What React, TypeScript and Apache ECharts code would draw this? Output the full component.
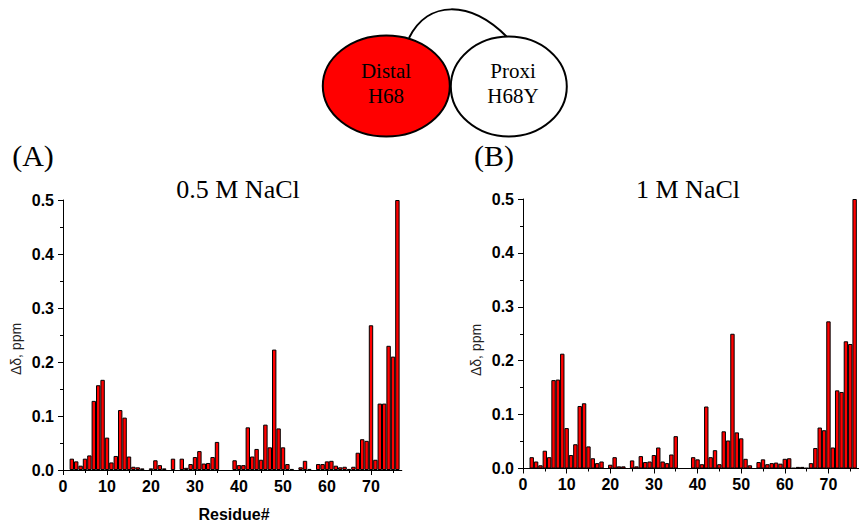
import React, { useEffect, useRef } from "react";
import * as echarts from "echarts";

const residues = [
  1, 2, 3, 4, 5, 6, 7, 8, 9, 10, 11, 12, 13, 14, 15, 16, 17, 18, 19, 20,
  21, 22, 23, 24, 25, 26, 27, 28, 29, 30, 31, 32, 33, 34, 35, 36, 37, 38, 39, 40,
  41, 42, 43, 44, 45, 46, 47, 48, 49, 50, 51, 52, 53, 54, 55, 56, 57, 58, 59, 60,
  61, 62, 63, 64, 65, 66, 67, 68, 69, 70, 71, 72, 73, 74, 75, 76,
];

// (A) 0.5 M NaCl
const shiftA = [
  0, 0.021, 0.016, 0.008, 0.021, 0.027, 0.128, 0.157, 0.167, 0.06,
  0.014, 0.026, 0.111, 0.097, 0.025, 0.006, 0.005, 0.003, 0, 0.003,
  0.018, 0.009, 0.003, 0, 0.021, 0, 0.021, 0.004, 0.011, 0.024,
  0.035, 0.012, 0.013, 0.024, 0.052, 0, 0, 0, 0.018, 0.009,
  0.009, 0.079, 0.025, 0.039, 0.019, 0.084, 0.042, 0.223, 0.077, 0.042,
  0.011, 0.002, 0, 0.005, 0.017, 0.002, 0, 0.011, 0.011, 0.016,
  0.017, 0.008, 0.005, 0.006, 0.002, 0.006, 0.032, 0.057, 0.054, 0.268,
  0.019, 0.123, 0.123, 0.23, 0.21, 0.5,
];

// (B) 1 M NaCl
const shiftB = [
  0, 0.021, 0.013, 0.006, 0.033, 0.021, 0.164, 0.165, 0.213, 0.075,
  0.025, 0.045, 0.116, 0.121, 0.041, 0.019, 0.01, 0.013, 0, 0.007,
  0.021, 0.004, 0.004, 0, 0.015, 0.004, 0.023, 0.012, 0.013, 0.025,
  0.039, 0.013, 0.01, 0.026, 0.06, 0, 0, 0, 0.021, 0.017,
  0.008, 0.115, 0.021, 0.034, 0.008, 0.069, 0.052, 0.25, 0.067, 0.056,
  0.018, 0.006, 0, 0.012, 0.017, 0.008, 0.01, 0.011, 0.009, 0.018,
  0.019, 0.001, 0.003, 0.003, 0.001, 0.01, 0.038, 0.076, 0.071, 0.273,
  0.039, 0.145, 0.142, 0.236, 0.231, 0.5,
];

const xMajorTicks = [0, 10, 20, 30, 40, 50, 60, 70];
const xMinorTicks = [5, 15, 25, 35, 45, 55, 65, 75];
const panelTitles = ["0.5 M NaCl", "1 M NaCl"];
const panelTags = ["(A)", "(B)"];
const yName = "Δδ, ppm";
const xName = "Residue#";

const SANS = "'Liberation Sans', Arial, sans-serif";
const SERIF = "'Liberation Serif', 'Times New Roman', serif";

function makeXAxes(gridIndex: number) {
  return [
    {
      gridIndex,
      type: "value",
      position: "bottom",
      min: 0,
      max: 77,
      axisLine: { show: true, onZero: false, lineStyle: { color: "#000", width: 1 } },
      axisTick: {
        show: true,
        length: 5,
        customValues: xMajorTicks,
        lineStyle: { color: "#000", width: 1 },
      },
      axisLabel: {
        customValues: xMajorTicks,
        color: "#000",
        fontWeight: "bold",
        fontSize: 16,
        fontFamily: SANS,
        margin: 8,
      },
      splitLine: { show: false },
    },
    {
      gridIndex,
      type: "value",
      position: "bottom",
      min: 0,
      max: 77,
      axisLine: { show: false, onZero: false },
      axisTick: {
        show: true,
        length: 3,
        customValues: xMinorTicks,
        lineStyle: { color: "#000", width: 1 },
      },
      axisLabel: { show: false },
      splitLine: { show: false },
    },
  ];
}

function makeYAxis(gridIndex: number) {
  return {
    gridIndex,
    type: "value",
    min: 0,
    max: 0.5,
    interval: 0.1,
    axisLine: { show: true, lineStyle: { color: "#000", width: 1 } },
    axisTick: { show: true, length: 5, lineStyle: { color: "#000", width: 1 } },
    minorTick: { show: true, splitNumber: 2, length: 3, lineStyle: { color: "#000", width: 1 } },
    axisLabel: {
      color: "#000",
      fontWeight: "bold",
      fontSize: 16,
      fontFamily: SANS,
      margin: 9,
      formatter: (v: number) => v.toFixed(1),
    },
    splitLine: { show: false },
    minorSplitLine: { show: false },
  };
}

function barData(values: number[]) {
  return residues
    .map((r, i) => [r, values[i]])
    .filter((d) => d[1] > 0);
}

const barStyle = { color: "#ff0000", borderColor: "#000", borderWidth: 1 };

function text(x: number, y: number, t: string, font: string, extra: any = {}) {
  return {
    type: "text",
    x,
    y,
    ...extra,
    style: {
      text: t,
      font,
      fill: extra.fill || "#000",
      textAlign: "center",
      textVerticalAlign: "middle",
      align: "center",
      verticalAlign: "middle",
    },
  };
}

export default function App() {
  const ref = useRef<HTMLDivElement>(null);
  useEffect(() => {
    if (!ref.current) return;
    const chart = echarts.init(ref.current, undefined, { renderer: "svg" });
    const option: any = {
      animation: false,
      backgroundColor: "#fff",
      grid: [
        { left: 63, top: 200, width: 338.8, height: 270 },
        { left: 523, top: 199, width: 338.8, height: 269.5 },
      ],
      xAxis: [...makeXAxes(0), ...makeXAxes(1)],
      yAxis: [makeYAxis(0), makeYAxis(1)],
      series: [
        {
          type: "bar",
          xAxisIndex: 0,
          yAxisIndex: 0,
          barWidth: 4.4,
          itemStyle: barStyle,
          data: barData(shiftA),
        },
        {
          type: "bar",
          xAxisIndex: 2,
          yAxisIndex: 1,
          barWidth: 4.4,
          itemStyle: barStyle,
          data: barData(shiftB),
        },
      ],
      graphic: [
        {
          type: "bezierCurve",
          shape: { x1: 409, y1: 38, cpx1: 428, cpy1: 0, cpx2: 470, cpy2: 0, x2: 507, y2: 37 },
          style: { stroke: "#000", lineWidth: 2, fill: null },
        },
        {
          type: "ellipse",
          shape: { cx: 386.3, cy: 86, rx: 63.5, ry: 50.5 },
          style: { fill: "#ff0000", stroke: "#000", lineWidth: 2 },
        },
        {
          type: "ellipse",
          shape: { cx: 508.8, cy: 86.5, rx: 58, ry: 50 },
          style: { fill: "#fff", stroke: "#000", lineWidth: 2 },
        },
        text(386, 71, "Distal", `21px ${SERIF}`),
        text(386, 96, "H68", `21px ${SERIF}`),
        text(513, 71, "Proxi", `21px ${SERIF}`),
        text(513, 96, "H68Y", `21px ${SERIF}`),
        text(33, 155, panelTags[0], `30px ${SERIF}`),
        text(494, 155, panelTags[1], `30px ${SERIF}`),
        text(238, 189, panelTitles[0], `26px ${SERIF}`),
        text(688, 189, panelTitles[1], `26px ${SERIF}`),
        text(16, 349, yName, `14px ${SANS}`, { rotation: Math.PI / 2, fill: "#222" }),
        text(476, 350, yName, `14px ${SANS}`, { rotation: Math.PI / 2, fill: "#222" }),
        text(234, 514, xName, `bold 16px ${SANS}`),
      ],
    };
    chart.setOption(option);
    return () => chart.dispose();
  }, []);
  return (
    <div
      ref={ref}
      style={{ position: "fixed", left: 0, top: 0, width: 859, height: 523, background: "#fff" }}
    />
  );
}
